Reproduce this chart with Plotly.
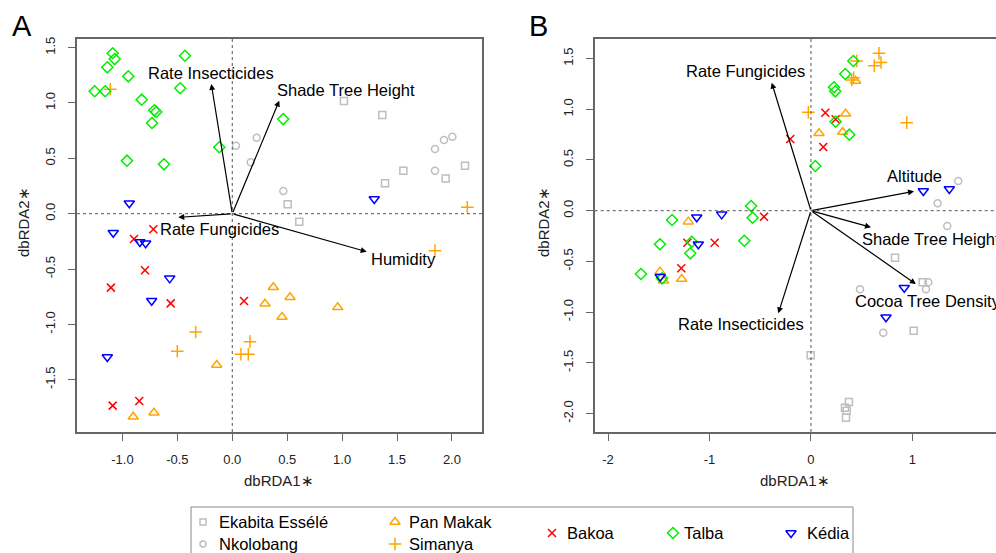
import plotly.graph_objects as go

W, H = 996, 553

# ---------------- data ----------------
GROUPS = ["Ekabita Essélé", "Nkolobang", "Pan Makak", "Simanya", "Bakoa", "Talba", "Kédia"]
COLORS = ["#BEBEBE", "#BEBEBE", "#FFA500", "#FFA500", "#FF0000", "#00EE00", "#0000FF"]
SYMBOLS = ["square-open", "circle-open", "triangle-up-open", "cross-thin", "x-thin", "diamond-open", "triangle-down-open"]
SIZES = [7, 7, 9, 9, 8, 8.5, 9]

A_EKABITA = [(1.017, 1.018), (1.366, 0.892), (1.558, 0.388), (1.391, 0.275), (1.943, 0.319), (2.119, 0.434), (0.504, 0.085), (0.610, -0.072)]
A_NKOLOBANG = [(0.222, 0.687), (0.034, 0.614), (0.168, 0.464), (0.465, 0.205), (1.846, 0.584), (1.928, 0.666), (2.004, 0.696), (1.846, 0.388)]
A_PANMAKAK = [(-0.142, -1.367), (-0.902, -1.834), (-0.713, -1.798), (0.374, -0.665), (0.298, -0.813), (0.526, -0.755), (0.960, -0.846), (0.453, -0.933)]
A_SIMANYA = [(-1.111, 1.124), (2.140, 0.058), (1.846, -0.334), (-0.333, -1.069), (-0.501, -1.243), (0.161, -1.156), (0.079, -1.270), (0.146, -1.270)]
A_BAKOA = [(-0.719, -0.141), (-0.895, -0.229), (-0.795, -0.511), (-1.105, -0.668), (-0.561, -0.810), (-1.089, -1.734), (-0.847, -1.692), (0.107, -0.789)]
A_TALBA = [(-1.089, 1.449), (-1.071, 1.397), (-1.138, 1.322), (-0.947, 1.241), (-0.431, 1.427), (-1.253, 1.106), (-1.157, 1.106), (-0.825, 1.030),
           (-0.474, 1.133), (-0.710, 0.934), (-0.692, 0.919), (-0.731, 0.819), (-0.118, 0.600), (-0.959, 0.479), (-0.622, 0.446), (0.464, 0.855)]
A_KEDIA = [(-0.938, 0.094), (1.293, 0.133), (-1.084, -0.172), (-0.841, -0.256), (-0.789, -0.267), (-0.570, -0.584), (-0.734, -0.786), (-1.138, -1.295)]

B_EKABITA = [(0.828, -0.463), (1.100, -0.706), (1.012, -1.183), (-0.003, -1.426), (0.374, -1.887), (0.335, -1.943), (0.352, -1.972), (0.345, -2.041)]
B_NKOLOBANG = [(1.451, 0.293), (1.248, 0.073), (1.343, -0.151), (1.156, -0.706), (1.133, -0.775), (0.483, -0.775), (0.712, -1.203)]
B_PANMAKAK = [(-1.209, -0.108), (-1.488, -0.601), (-1.454, -0.690), (-1.274, -0.674), (0.440, 1.279), (0.341, 0.956), (0.079, 0.763), (0.312, 0.776)]
B_SIMANYA = [(0.670, 1.552), (0.624, 1.430), (0.690, 1.462), (0.450, 1.476), (0.401, 1.289), (0.420, 1.310), (-0.026, 0.970), (0.943, 0.868)]
B_BAKOA = [(0.141, 0.966), (0.243, 0.901), (-0.204, 0.707), (0.121, 0.628), (-0.463, -0.059), (-1.218, -0.316), (-0.949, -0.316), (-1.278, -0.568)]
B_TALBA = [(0.417, 1.476), (0.338, 1.348), (0.227, 1.217), (0.239, 1.177), (0.243, 0.878), (0.378, 0.750), (0.043, 0.441), (-0.590, 0.046),
           (-0.575, -0.069), (-0.657, -0.296), (-1.369, -0.092), (-1.488, -0.331), (-1.175, -0.306), (-1.189, -0.420), (-1.675, -0.624), (-1.468, -0.667)]
B_KEDIA = [(-1.126, -0.065), (-0.880, -0.036), (-1.110, -0.331), (-1.485, -0.651), (1.107, 0.194), (1.363, 0.214), (0.919, -0.759), (0.739, -1.051)]

A_ARROW_NAMES = ["Rate Insecticides", "Shade Tree Height", "Rate Fungicides", "Humidity"]
A_ARROW_X = [-0.191, 0.428, -0.492, 1.224]
A_ARROW_Y = [1.172, 1.021, -0.033, -0.343]
A_LABEL_X = [-0.194, 0.389, -0.674, 1.248]
A_LABEL_Y = [1.271, 1.117, -0.141, -0.409]
A_LABEL_ANCHOR = ["center", "left", "left", "left"]

B_ARROW_NAMES = ["Rate Fungicides", "Altitude", "Shade Tree Height", "Cocoa Tree Density", "Rate Insecticides"]
B_ARROW_X = [-0.387, 1.015, 0.591, 1.034, -0.322]
B_ARROW_Y = [1.262, 0.191, -0.164, -0.723, -1.012]
B_LABEL_X = [-0.647, 1.018, 0.483, 0.411, -0.687]
B_LABEL_Y = [1.378, 0.345, -0.279, -0.888, -1.117]
B_LABEL_ANCHOR = ["center", "center", "left", "left", "center"]

A_XTICKS = [-1.0, -0.5, 0.0, 0.5, 1.0, 1.5, 2.0]
A_YTICKS = [-1.5, -1.0, -0.5, 0.0, 0.5, 1.0, 1.5]
B_XTICKS = [-2, -1, 0, 1]
B_YTICKS = [-2.0, -1.5, -1.0, -0.5, 0.0, 0.5, 1.0, 1.5]

# legend layout (pixel positions of entries)
LEG_MX = [203, 203, 395, 395, 552, 673, 791]
LEG_MY = [522, 544, 522, 544, 533, 533, 533]
LEG_TX = [217, 217, 407, 407, 565, 682, 805]

FONT = "Liberation Sans, Arial, Helvetica, sans-serif"
AX_COL = "#666666"

A_DATA = [A_EKABITA, A_NKOLOBANG, A_PANMAKAK, A_SIMANYA, A_BAKOA, A_TALBA, A_KEDIA]
B_DATA = [B_EKABITA, B_NKOLOBANG, B_PANMAKAK, B_SIMANYA, B_BAKOA, B_TALBA, B_KEDIA]

fig = go.Figure()


def add_points(data, xa, ya):
    for g, pts in enumerate(data):
        fig.add_trace(go.Scatter(
            x=[p[0] for p in pts], y=[p[1] for p in pts], mode="markers",
            xaxis=xa, yaxis=ya, showlegend=False, name=GROUPS[g],
            marker=dict(symbol=SYMBOLS[g], size=SIZES[g], color=COLORS[g],
                        line=dict(color=COLORS[g], width=1.5))))


add_points(A_DATA, "x", "y")
add_points(B_DATA, "x2", "y2")

# legend markers on a full-figure overlay axis
for g in range(len(GROUPS)):
    fig.add_trace(go.Scatter(
        x=[LEG_MX[g]], y=[LEG_MY[g]], mode="markers", xaxis="x3", yaxis="y3",
        showlegend=False,
        marker=dict(symbol=SYMBOLS[g], size=SIZES[g] - (1 if g < 2 else 0), color=COLORS[g],
                    line=dict(color=COLORS[g], width=1.5))))

annotations = []
shapes = []


def add_arrows(names, ax_x, ax_y, lx, ly, anchors, xr, yr):
    for i, n in enumerate(names):
        annotations.append(dict(x=ax_x[i], y=ax_y[i], ax=0, ay=0, xref=xr, yref=yr,
                                axref=xr, ayref=yr, showarrow=True, arrowhead=2,
                                arrowsize=1.0, arrowwidth=1.2, arrowcolor="black", text=""))
        annotations.append(dict(x=lx[i], y=ly[i], xref=xr, yref=yr, text=n, showarrow=False,
                                xanchor=anchors[i], yanchor="middle",
                                font=dict(family=FONT, size=16.5, color="black")))


add_arrows(A_ARROW_NAMES, A_ARROW_X, A_ARROW_Y, A_LABEL_X, A_LABEL_Y, A_LABEL_ANCHOR, "x", "y")
add_arrows(B_ARROW_NAMES, B_ARROW_X, B_ARROW_Y, B_LABEL_X, B_LABEL_Y, B_LABEL_ANCHOR, "x2", "y2")

# dotted zero lines
for xr, yr in [("x", "y"), ("x2", "y2")]:
    shapes.append(dict(type="line", xref=xr, yref=yr + " domain", x0=0, x1=0, y0=0, y1=1,
                       line=dict(color="#555555", width=1, dash="dot")))
    shapes.append(dict(type="line", xref=xr + " domain", yref=yr, x0=0, x1=1, y0=0, y1=0,
                       line=dict(color="#555555", width=1, dash="dot")))

# legend box
shapes.append(dict(type="rect", xref="x3", yref="y3", x0=191, x1=853, y0=507, y1=570,
                   line=dict(color="#888888", width=1), fillcolor="rgba(0,0,0,0)"))

for g in range(len(GROUPS)):
    annotations.append(dict(x=LEG_TX[g], y=LEG_MY[g], xref="x3", yref="y3", text=GROUPS[g],
                            showarrow=False, xanchor="left", yanchor="middle",
                            font=dict(family=FONT, size=16.5, color="black")))

# panel letters and axis titles (paper coords)
for txt, px in [("A", 22), ("B", 538)]:
    annotations.append(dict(x=px / W, y=1 - 26 / H, xref="paper", yref="paper", text=txt,
                            showarrow=False, xanchor="center", yanchor="middle",
                            font=dict(family=FONT, size=29, color="black")))
for px in [279, 795]:
    annotations.append(dict(x=px / W, y=1 - 480 / H, xref="paper", yref="paper", text="dbRDA1∗",
                            showarrow=False, xanchor="center", yanchor="middle",
                            font=dict(family=FONT, size=15, color="#222222")))
for px in [23, 543]:
    annotations.append(dict(x=px / W, y=1 - 222 / H, xref="paper", yref="paper", text="dbRDA2∗",
                            showarrow=False, xanchor="center", yanchor="middle", textangle=-90,
                            font=dict(family=FONT, size=15, color="#222222")))

ydom = [1 - 432 / H, 1 - 39 / H]
common_ax = dict(showgrid=False, zeroline=False, showline=True, linecolor=AX_COL, linewidth=1.5,
                 ticks="outside", ticklen=7, tickwidth=1.2, tickcolor=AX_COL,
                 tickfont=dict(family=FONT, size=13, color="#222222"), automargin=False,
                 ticklabelstandoff=8)


def fmt(vals, nd):
    return [f"{v:.{nd}f}" for v in vals]


fig.update_layout(
    width=W, height=H, margin=dict(l=0, r=0, t=0, b=0),
    paper_bgcolor="white", plot_bgcolor="rgba(0,0,0,0)", showlegend=False,
    xaxis=dict(domain=[77 / W, 482 / W], range=[-1.414, 2.274], tickvals=A_XTICKS,
               ticktext=fmt(A_XTICKS, 1), mirror=True, anchor="y", **common_ax),
    yaxis=dict(domain=ydom, range=[-1.972, 1.578], tickvals=A_YTICKS, ticktext=fmt(A_YTICKS, 1),
               tickangle=-90, mirror=True, anchor="x", **common_ax),
    xaxis2=dict(domain=[594.7 / W, 1.0], range=[-2.131, 1.823], tickvals=B_XTICKS,
                ticktext=fmt(B_XTICKS, 0), mirror=True, anchor="y2", **common_ax),
    yaxis2=dict(domain=ydom, range=[-2.182, 1.693], tickvals=B_YTICKS, ticktext=fmt(B_YTICKS, 1),
                tickangle=-90, mirror=False, anchor="x2", **common_ax),
    xaxis3=dict(domain=[0, 1], range=[0, W], visible=False, anchor="y3", fixedrange=True),
    yaxis3=dict(domain=[0, 1], range=[H, 0], visible=False, anchor="x3", fixedrange=True),
    annotations=annotations, shapes=shapes,
)

fig.write_html("out.html", config={"displayModeBar": False},
               post_script="document.body.style.margin='0';document.body.style.overflow='hidden';")
